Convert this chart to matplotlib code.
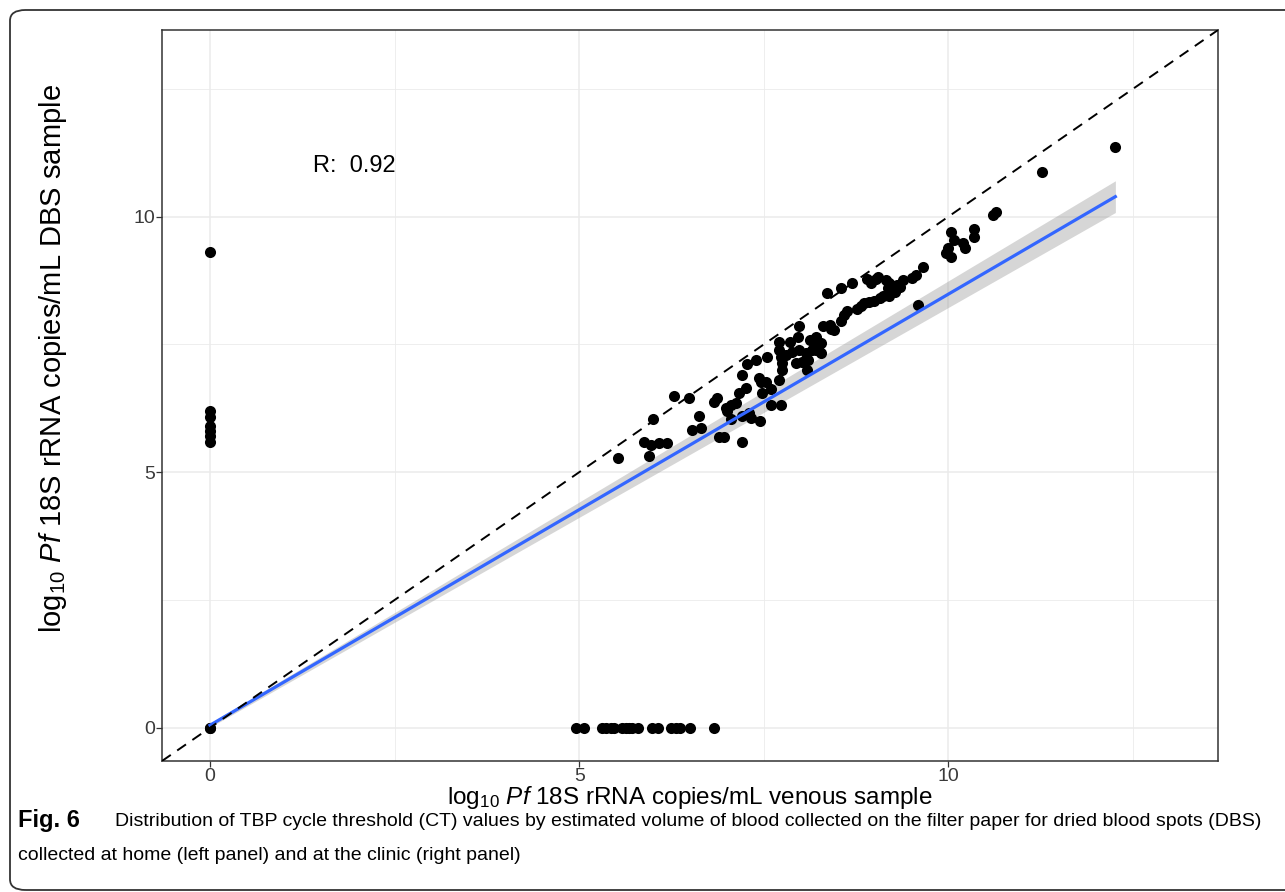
import numpy as np
import matplotlib
matplotlib.use('Agg')
import matplotlib.pyplot as plt
from matplotlib.patches import FancyBboxPatch

plt.rcParams['font.family'] = ['Liberation Sans', 'DejaVu Sans']
plt.rcParams['mathtext.fontset'] = 'custom'
plt.rcParams['mathtext.rm'] = 'Liberation Sans'
plt.rcParams['mathtext.it'] = 'Liberation Sans:italic'

# log10 copies/mL: venous (x) vs DBS (y)
venous = [
    # detected only in DBS
    0, 0, 0, 0, 0, 0, 0, 0, 0,
    # detected in both
    5.53, 5.95, 5.88, 5.97, 6.08, 6.19, 6.0, 6.28, 6.49, 6.53, 6.65, 6.62,
    6.82, 6.86, 6.89, 6.96, 7.2, 6.99, 7.05, 7.12, 7.16, 7.2, 7.26, 7.27,
    7.2, 7.32, 7.45, 7.47, 7.46, 7.53, 7.6, 7.6, 7.73, 7.54, 7.7, 7.7,
    7.73, 7.74, 7.7, 7.74, 7.96, 7.88, 7.97, 8.07, 8.15, 8.1, 8.01, 7.93,
    8.09, 8.2, 8.24, 8.2, 8.27, 8.2, 8.24, 7.98, 8.12, 8.19, 8.27, 8.3,
    8.39, 8.41, 8.45, 8.55, 8.58, 8.62, 8.76, 8.81, 8.86, 8.92, 8.99, 9.07,
    9.11, 9.2, 9.28, 9.34, 9.39, 9.18, 9.3, 9.2, 9.15, 9.05, 8.95, 9.02,
    9.66, 9.5, 9.56, 9.59, 10.04, 10.07, 10.0, 9.96, 10.03, 10.34, 10.34,
    10.2, 10.23, 10.6, 10.64, 11.27, 12.26, 7.43, 7.0, 7.3, 7.05, 8.35,
    8.55, 8.7, 8.9, 7.85, 7.8, 7.4,
    # detected only in venous
    4.96, 5.07, 5.31, 5.36, 5.43, 5.47, 5.58, 5.63, 5.68, 5.72, 5.79, 5.98,
    6.06, 6.24, 6.31, 6.37, 6.5, 6.83,
]
dbs = [
    0, 0, 9.3, 6.2, 6.08, 5.9, 5.8, 5.7, 5.6,
    5.27, 5.31, 5.59, 5.53, 5.57, 5.57, 6.04, 6.49, 6.45, 5.82, 5.86, 6.1,
    6.37, 6.45, 5.69, 5.69, 5.59, 6.25, 6.31, 6.35, 6.55, 6.9, 6.65, 7.12,
    6.1, 6.06, 6.0, 6.55, 6.76, 6.76, 6.63, 6.31, 6.31, 7.25, 7.55, 7.39,
    7.25, 7.14, 6.8, 7.0, 7.65, 7.35, 7.39, 7.33, 7.39, 7.2, 7.16, 7.14,
    7.0, 7.65, 7.53, 7.39, 7.33, 7.55, 7.45, 7.86, 7.59, 7.57, 7.53, 7.86,
    7.88, 7.8, 7.78, 7.96, 8.08, 8.16, 8.2, 8.25, 8.3, 8.33, 8.35, 8.41,
    8.45, 8.45, 8.53, 8.63, 8.75, 8.61, 8.67, 8.71, 8.75, 8.82, 8.7, 8.77,
    9.02, 8.8, 8.85, 8.27, 9.7, 9.55, 9.39, 9.29, 9.2, 9.75, 9.61,
    9.49, 9.39, 10.04, 10.08, 10.88, 11.37, 6.85, 6.2, 6.15, 6.05, 8.5,
    8.6, 8.7, 8.78, 7.55, 7.3, 7.2,
    0, 0, 0, 0, 0, 0, 0, 0, 0, 0, 0, 0,
    0, 0, 0, 0, 0, 0,
]
# fitted line and its confidence band
fit_x = [0, 12.26]
fit_y = [0.05, 10.39]
fit_lo = [0.01, 10.08]
fit_hi = [0.09, 10.70]
r_value = 0.92

fig = plt.figure(figsize=(12.85, 8.92), dpi=100)
ax = fig.add_axes([162 / 1285, 131 / 892, 1056 / 1285, 731 / 892])

ax.set_xlim(-0.65, 13.65)
ax.set_ylim(-0.65, 13.65)
ax.set_xticks([0, 5, 10])
ax.set_yticks([0, 5, 10])
ax.set_xticks([2.5, 7.5, 12.5], minor=True)
ax.set_yticks([2.5, 7.5, 12.5], minor=True)
ax.grid(which='major', color='#EBEBEB', linewidth=1.1, zorder=0)
ax.grid(which='minor', color='#EBEBEB', linewidth=0.6, zorder=0)
ax.set_axisbelow(True)
ax.tick_params(which='minor', length=0)
ax.tick_params(which='major', length=4, width=0.9, color='#333333',
               labelsize=14, labelcolor='#3A3A3A', pad=1)
for s in ax.spines.values():
    s.set_color('#333333')
    s.set_linewidth(1.1)

ax.fill_between(fit_x, fit_lo, fit_hi, color='#999999', alpha=0.4,
                linewidth=0, zorder=2)
ax.scatter(venous, dbs, s=64, color='black', linewidths=0, zorder=3)
ax.plot(fit_x, fit_y, color='#3366FF', linewidth=2.3, zorder=4)
ax.axline((0, 0), slope=1, color='black', linewidth=1.4,
          dashes=(5.5, 4), zorder=5)

ax.text(1.39, 10.98, 'R:  %.2f' % r_value, fontsize=17, ha='left',
        va='center')

ax.set_xlabel(r'log$_{10}$ $\it{Pf}$ 18S rRNA copies$/$mL venous sample',
              fontsize=17.5)
ax.xaxis.set_label_coords(0.5, -0.032)
ax.set_ylabel(r'log$_{10}$ $\it{Pf}$ 18S rRNA copies$/$mL DBS sample',
              fontsize=21)
ax.yaxis.set_label_coords(-0.088, 0.55)

# rounded frame around the figure
frame = FancyBboxPatch((10 / 1285, 2 / 892), 1300 / 1285, 880 / 892,
                       boxstyle='round,pad=0,rounding_size=0.012',
                       transform=fig.transFigure, facecolor='none',
                       edgecolor='#333333', linewidth=1.3, clip_on=False)
fig.add_artist(frame)

cap_font = ['Liberation Sans Narrow', 'Liberation Sans', 'DejaVu Sans']
fig.text(18 / 1285, 1 - 821 / 892, 'Fig. 6', family=cap_font,
         fontweight='bold', fontsize=17, va='center', ha='left')
fig.text(115 / 1285, 1 - 821 / 892,
         'Distribution of TBP cycle threshold (CT) values by estimated '
         'volume of blood collected on the filter paper for dried blood '
         'spots (DBS)', family=cap_font, fontsize=14, va='center',
         ha='left')
fig.text(18 / 1285, 1 - 856 / 892,
         'collected at home (left panel) and at the clinic (right panel)',
         family=cap_font, fontsize=14, va='center', ha='left')

fig.savefig('out.png', dpi=100)
